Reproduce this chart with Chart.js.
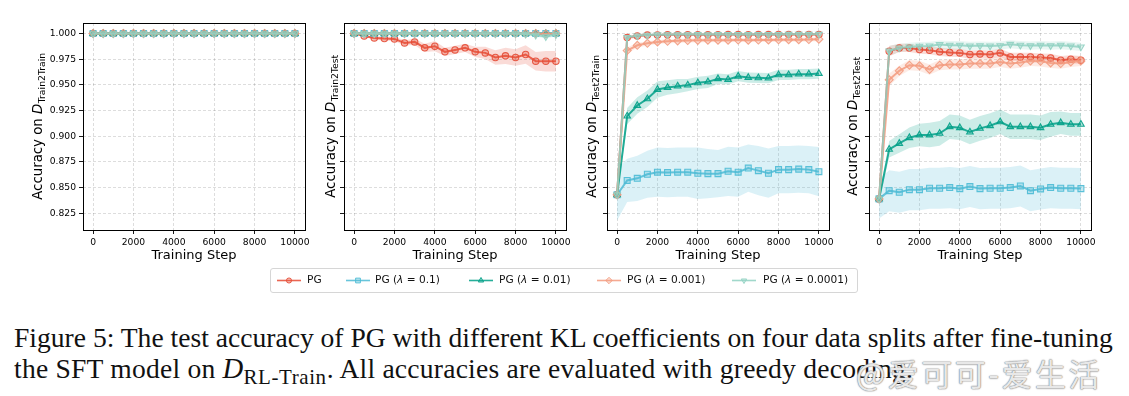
<!DOCTYPE html>
<html>
<head>
<meta charset="utf-8">
<script src="https://cdn.jsdelivr.net/npm/chart.js@4.4.1/dist/chart.umd.min.js"></script>
<style>
  body { margin: 0; background: #fff; }
  #fig { position: relative; width: 1129px; height: 396px; overflow: hidden; background: #fff; }
  .panel { position: absolute; top: 0; }
  #legend { position: absolute; left: 270px; top: 268px; width: 588px; height: 25px; border: 1px solid #d6d6d6; border-radius: 3px; box-sizing: border-box; }
  .lg-item { position: absolute; top: 0; height: 23px; }
  .lg-item canvas { position: absolute; top: 0; left: 0; }
  .lg-item span { position: absolute; top: 4px; white-space: nowrap; font: 10.6px "DejaVu Sans"; color: #111; }
  .cap { position: absolute; left: 14px; white-space: nowrap; font-family: "Liberation Serif", serif; font-size: 23px; line-height: 23px; color: #111; }
  #cap2 { letter-spacing: 0.22px; }
  .cap .m { font-size: 1.04em; }
  .cap sub { font-size: 0.76em; vertical-align: -0.28em; line-height: 0; letter-spacing: 0.6px; }
  #wm { position: absolute; left: 856px; top: 350px; font: 31px "Noto Sans CJK SC"; letter-spacing: 2.5px; color: rgba(255,255,255,0.82); text-shadow: 0 0 1px #888, 0 0 1px #888, 0 0 2px #aaa; white-space: nowrap; }
</style>
</head>
<body>
<div id="fig">
  <canvas id="c1" class="panel" width="323" height="270"></canvas>
  <canvas id="c2" class="panel" width="323" height="270"></canvas>
  <canvas id="c3" class="panel" width="323" height="270"></canvas>
  <canvas id="c4" class="panel" width="323" height="270"></canvas>
  <div id="legend"></div>
  <div class="cap" id="cap1" style="top:326px">Figure 5: The test accuracy of PG with different KL coefficients on four data splits after fine-tuning</div>
  <div class="cap" id="cap2" style="top:357px">the SFT model on <i class="m">D</i><sub>RL-Train</sub>. All accuracies are evaluated with greedy decoding.</div>
  <div id="wm">@爱可可-爱生活</div>
</div>
<script>
const steps = [0, 500, 1000, 1500, 2000, 2500, 3000, 3500, 4000, 4500, 5000, 5500, 6000, 6500, 7000, 7500, 8000, 8500, 9000, 9500, 10000];
const xTicks = [0, 2000, 4000, 6000, 8000, 10000];
const yTicks = [0.825, 0.850, 0.875, 0.900, 0.925, 0.950, 0.975, 1.000];
const seriesLabels = ['PG', 'PG (λ = 0.1)', 'PG (λ = 0.01)', 'PG (λ = 0.001)', 'PG (λ = 0.0001)'];
const panelSubs = ['Train2Train', 'Train2Test', 'Test2Train', 'Test2Test'];

// D_Train2Train : every run stays at 1.0
const trtrPg = [1, 1, 1, 1, 1, 1, 1, 1, 1, 1, 1, 1, 1, 1, 1, 1, 1, 1, 1, 1, 1];
const trtrL1 = [1, 1, 1, 1, 1, 1, 1, 1, 1, 1, 1, 1, 1, 1, 1, 1, 1, 1, 1, 1, 1];
const trtrL2 = [1, 1, 1, 1, 1, 1, 1, 1, 1, 1, 1, 1, 1, 1, 1, 1, 1, 1, 1, 1, 1];
const trtrL3 = [1, 1, 1, 1, 1, 1, 1, 1, 1, 1, 1, 1, 1, 1, 1, 1, 1, 1, 1, 1, 1];
const trtrL4 = [1, 1, 1, 1, 1, 1, 1, 1, 1, 1, 1, 1, 1, 1, 1, 1, 1, 1, 1, 1, 1];

// D_Train2Test
const trtePg = [1.000, 0.9977, 0.9958, 0.9951, 0.9948, 0.9909, 0.9919, 0.9861, 0.9877, 0.9822, 0.9841, 0.9861, 0.9822, 0.9812, 0.9767, 0.9783, 0.9767, 0.9796, 0.9731, 0.9731, 0.9731];
const trtePgSd = [0, 0.001, 0.0015, 0.002, 0.002, 0.0025, 0.003, 0.004, 0.005, 0.004, 0.004, 0.004, 0.005, 0.006, 0.007, 0.008, 0.008, 0.009, 0.009, 0.010, 0.010];
const trteL1 = [1, 1, 1, 1, 1, 1, 1, 1, 1, 1, 1, 1, 1, 1, 1, 1, 1, 1, 1, 1, 1];
const trteL2 = [1, 1, 1, 1, 1, 1, 1, 1, 1, 1, 1, 1, 1, 1, 1, 1, 1, 1, 1, 1, 1];
const trteL3 = [1, 1, 1, 1, 1, 1, 1, 1, 1, 1, 1, 1, 1, 1, 1, 1, 1, 1, 1, 0.9997, 1];
const trteL4 = [1, 1, 1, 1, 1, 1, 1, 1, 1, 1, 1, 1, 1, 1, 1, 1, 1, 0.9995, 0.9985, 0.9970, 0.9990];
const trteL4Sd = [0, 0, 0, 0, 0, 0, 0, 0, 0, 0, 0, 0, 0, 0, 0, 0, 0, 0.001, 0.0015, 0.002, 0.0015];

// D_Test2Train
const tetrPg = [0.843, 0.9961, 0.9977, 0.9985, 0.9987, 0.9988, 0.9988, 0.9989, 0.9989, 0.9988, 0.9989, 0.9990, 0.9990, 0.9989, 0.9990, 0.9990, 0.9991, 0.9991, 0.9991, 0.9992, 0.9992];
const tetrPgSd = [0, 0.002, 0.0015, 0.001, 0.001, 0.001, 0.001, 0.001, 0.001, 0.001, 0.001, 0.001, 0.001, 0.001, 0.001, 0.001, 0.001, 0.001, 0.001, 0.001, 0.001];
const tetrL1 = [0.843, 0.857, 0.859, 0.863, 0.865, 0.8646, 0.865, 0.865, 0.864, 0.8636, 0.8636, 0.8659, 0.865, 0.869, 0.8665, 0.864, 0.8675, 0.8675, 0.868, 0.8675, 0.8655];
const tetrL1Sd = [0.025, 0.021, 0.022, 0.023, 0.024, 0.024, 0.024, 0.024, 0.025, 0.024, 0.023, 0.024, 0.024, 0.023, 0.024, 0.024, 0.023, 0.023, 0.023, 0.023, 0.024];
const tetrL2 = [0.843, 0.9196, 0.930, 0.9365, 0.9456, 0.9475, 0.9488, 0.9498, 0.952, 0.953, 0.956, 0.9553, 0.9585, 0.9572, 0.9569, 0.9566, 0.9598, 0.9598, 0.9605, 0.9605, 0.9611];
const tetrL2Sd = [0.002, 0.008, 0.008, 0.008, 0.008, 0.007, 0.007, 0.006, 0.006, 0.006, 0.005, 0.005, 0.005, 0.005, 0.005, 0.005, 0.005, 0.005, 0.005, 0.005, 0.005];
const tetrL3 = [0.843, 0.9835, 0.9886, 0.9905, 0.9918, 0.9925, 0.9929, 0.9932, 0.9934, 0.9935, 0.9935, 0.9936, 0.9937, 0.9936, 0.9937, 0.9938, 0.9939, 0.9940, 0.9941, 0.9942, 0.9945];
const tetrL3Sd = [0, 0.003, 0.0025, 0.002, 0.002, 0.002, 0.002, 0.002, 0.002, 0.002, 0.002, 0.002, 0.002, 0.002, 0.002, 0.002, 0.002, 0.002, 0.002, 0.002, 0.002];
const tetrL4 = [0.843, 0.9963, 0.9978, 0.9985, 0.9988, 0.9989, 0.9990, 0.9990, 0.9991, 0.9990, 0.9991, 0.9991, 0.9992, 0.9991, 0.9992, 0.9992, 0.9992, 0.9993, 0.9993, 0.9993, 0.9993];
const tetrL4Sd = [0, 0.0015, 0.001, 0.001, 0.001, 0.001, 0.001, 0.001, 0.001, 0.001, 0.001, 0.001, 0.001, 0.001, 0.001, 0.001, 0.001, 0.001, 0.001, 0.001, 0.001];

// D_Test2Test
const tetePg = [0.839, 0.9828, 0.986, 0.986, 0.9844, 0.9838, 0.9822, 0.9815, 0.9812, 0.9796, 0.980, 0.9796, 0.9812, 0.9773, 0.9773, 0.9773, 0.9767, 0.9763, 0.9741, 0.975, 0.9741];
const tetePgSd = [0, 0.005, 0.004, 0.004, 0.004, 0.004, 0.004, 0.004, 0.004, 0.004, 0.004, 0.004, 0.004, 0.004, 0.004, 0.004, 0.004, 0.004, 0.004, 0.004, 0.004];
const teteL1 = [0.839, 0.847, 0.8455, 0.848, 0.848, 0.8494, 0.8494, 0.850, 0.849, 0.851, 0.849, 0.8494, 0.8494, 0.850, 0.8516, 0.847, 0.8487, 0.850, 0.8494, 0.8494, 0.849];
const teteL1Sd = [0.019, 0.02, 0.02, 0.02, 0.02, 0.02, 0.02, 0.02, 0.02, 0.02, 0.02, 0.02, 0.02, 0.02, 0.02, 0.02, 0.02, 0.02, 0.02, 0.02, 0.02];
const teteL2 = [0.839, 0.8873, 0.893, 0.8986, 0.9012, 0.9012, 0.9028, 0.9093, 0.9083, 0.9041, 0.9077, 0.9103, 0.9141, 0.9093, 0.9093, 0.9093, 0.9083, 0.9116, 0.9132, 0.9116, 0.9116];
const teteL2Sd = [0.003, 0.008, 0.009, 0.010, 0.011, 0.012, 0.012, 0.012, 0.012, 0.012, 0.012, 0.012, 0.012, 0.012, 0.012, 0.012, 0.012, 0.012, 0.011, 0.011, 0.011];
const teteL3 = [0.839, 0.955, 0.9637, 0.9692, 0.9686, 0.965, 0.9692, 0.970, 0.970, 0.9708, 0.9708, 0.9708, 0.9724, 0.9708, 0.9718, 0.9734, 0.973, 0.9714, 0.9708, 0.9724, 0.9734];
const teteL3Sd = [0, 0.006, 0.005, 0.005, 0.005, 0.005, 0.005, 0.005, 0.005, 0.005, 0.005, 0.005, 0.005, 0.005, 0.005, 0.005, 0.005, 0.005, 0.005, 0.005, 0.005];
const teteL4 = [0.839, 0.9832, 0.986, 0.987, 0.9877, 0.988, 0.9893, 0.9887, 0.9887, 0.988, 0.9883, 0.988, 0.9883, 0.9896, 0.9887, 0.9883, 0.9887, 0.9883, 0.9887, 0.988, 0.987];
const teteL4Sd = [0, 0.005, 0.004, 0.004, 0.004, 0.004, 0.004, 0.004, 0.004, 0.004, 0.004, 0.004, 0.004, 0.004, 0.004, 0.004, 0.004, 0.004, 0.004, 0.004, 0.004];

const colors = ['#E64B35', '#4DBBD5', '#00A087', '#F39B7F', '#91D1C2'];
const markers = ['circle', 'rect', 'triangle', 'rectRot', 'triangle'];
const markerRot = [0, 0, 0, 0, 180];
const markerSize = [3.2, 4.2, 3.8, 4.0, 3.8];

const rgba = (hex, a) => {
    const n = parseInt(hex.slice(1), 16);
    return `rgba(${n >> 16}, ${(n >> 8) & 255}, ${n & 255}, ${a})`;
};

Chart.defaults.font.family = 'DejaVu Sans';
Chart.defaults.color = '#000';

// black box round the plot area, like matplotlib spines
const framePlugin = {
    id: 'frame',
    afterDatasetsDraw(chart) {
        const { ctx, chartArea: a } = chart;
        ctx.save();
        ctx.strokeStyle = '#000';
        ctx.lineWidth = 1;
        ctx.strokeRect(Math.round(a.left) + 0.5, Math.round(a.top) + 0.5, Math.round(a.right - a.left), Math.round(a.bottom - a.top));
        ctx.restore();
    }
};

// "Accuracy on D_xxx" with italic D and subscript
const yTitlePlugin = {
    id: 'ytitle',
    afterDraw(chart, args, opts) {
        const { ctx, chartArea: a } = chart;
        const big = 13.3, small = 9.3;
        ctx.save();
        ctx.fillStyle = '#000';
        ctx.textBaseline = 'alphabetic';
        ctx.font = `${big}px "DejaVu Sans"`;
        const w1 = ctx.measureText('Accuracy on ').width;
        ctx.font = `italic ${big}px "DejaVu Sans"`;
        const w2 = ctx.measureText('D').width;
        ctx.font = `${small}px "DejaVu Sans"`;
        const w3 = ctx.measureText(opts.sub).width;
        ctx.translate(opts.x, (a.top + a.bottom) / 2);
        ctx.rotate(-Math.PI / 2);
        let x = -(w1 + w2 + w3) / 2;
        ctx.font = `${big}px "DejaVu Sans"`;
        ctx.fillText('Accuracy on ', x, 0);
        x += w1;
        ctx.font = `italic ${big}px "DejaVu Sans"`;
        ctx.fillText('D', x, 0);
        x += w2 + 0.5;
        ctx.font = `${small}px "DejaVu Sans"`;
        ctx.fillText(opts.sub, x, 3);
        ctx.restore();
    }
};

const makePanel = (canvasId, left, series, sub, titleX, showYLabels) => {
    const cv = document.getElementById(canvasId);
    cv.style.left = left + 'px';
    const datasets = [];
    series.forEach((s, i) => {
        if (s.sd) {
            datasets.push({
                data: steps.map((x, k) => ({ x, y: s.mean[k] - s.sd[k] })),
                borderWidth: 0, borderColor: 'rgba(0,0,0,0)', pointRadius: 0, fill: false, order: 50 - i
            });
            datasets.push({
                data: steps.map((x, k) => ({ x, y: s.mean[k] + s.sd[k] })),
                borderWidth: 0, borderColor: 'rgba(0,0,0,0)', pointRadius: 0,
                fill: '-1', backgroundColor: rgba(colors[i], 0.2), order: 50 - i
            });
        }
        datasets.push({
            data: steps.map((x, k) => ({ x, y: s.mean[k] })),
            borderColor: rgba(colors[i], 0.85),
            borderWidth: 2,
            pointStyle: markers[i],
            rotation: markerRot[i],
            pointRadius: markerSize[i],
            pointBorderWidth: 1.1,
            pointBorderColor: rgba(colors[i], 0.9),
            pointBackgroundColor: rgba(colors[i], 0.3),
            fill: false,
            order: 10 - i
        });
    });

    return new Chart(cv, {
        type: 'line',
        data: { datasets },
        plugins: [framePlugin, yTitlePlugin],
        options: {
            responsive: false,
            animation: false,
            events: [],
            layout: { padding: { top: 23, right: 18, left: 0, bottom: 0 } },
            plugins: {
                legend: { display: false },
                tooltip: { enabled: false },
                ytitle: { sub, x: titleX }
            },
            scales: {
                x: {
                    type: 'linear',
                    min: -500,
                    max: 10500,
                    afterBuildTicks: (sc) => { sc.ticks = xTicks.map(v => ({ value: v })); },
                    afterFit: (sc) => { sc.height = 40; },
                    ticks: { font: { size: 9.2 }, padding: 3, maxRotation: 0, color: '#000', callback: (v) => String(v) },
                    grid: { color: 'rgba(0,0,0,0.17)', lineWidth: 0.8, tickColor: '#000', tickLength: 4, tickWidth: 0.9 },
                    border: { display: false, dash: [3, 2] },
                    title: { display: true, text: 'Training Step', font: { size: 13 }, padding: { top: 0, bottom: 7 }, color: '#000' }
                },
                y: {
                    min: 0.8087,
                    max: 1.0103,
                    afterBuildTicks: (sc) => { sc.ticks = yTicks.map(v => ({ value: v })); },
                    afterFit: (sc) => { sc.width = 83; },
                    ticks: {
                        font: { size: 9.2 }, padding: 3, color: '#000',
                        callback: (v) => showYLabels ? v.toFixed(3) : ''
                    },
                    grid: { color: 'rgba(0,0,0,0.17)', lineWidth: 0.8, tickColor: '#000', tickLength: 4, tickWidth: 0.9 },
                    border: { display: false, dash: [3, 2] }
                }
            }
        }
    });
};

const plotLefts = [83, 344, 607, 869];

makePanel('c1', plotLefts[0] - 83, [
    { mean: trtrPg }, { mean: trtrL1 }, { mean: trtrL2 }, { mean: trtrL3 }, { mean: trtrL4 }
], panelSubs[0], 42, true);

makePanel('c2', plotLefts[1] - 83, [
    { mean: trtePg, sd: trtePgSd }, { mean: trteL1 }, { mean: trteL2 }, { mean: trteL3 }, { mean: trteL4, sd: trteL4Sd }
], panelSubs[1], 83 - 9.5, false);

makePanel('c3', plotLefts[2] - 83, [
    { mean: tetrPg, sd: tetrPgSd }, { mean: tetrL1, sd: tetrL1Sd }, { mean: tetrL2, sd: tetrL2Sd },
    { mean: tetrL3, sd: tetrL3Sd }, { mean: tetrL4, sd: tetrL4Sd }
], panelSubs[2], 83 - 11, false);

makePanel('c4', plotLefts[3] - 83, [
    { mean: tetePg, sd: tetePgSd }, { mean: teteL1, sd: teteL1Sd }, { mean: teteL2, sd: teteL2Sd },
    { mean: teteL3, sd: teteL3Sd }, { mean: teteL4, sd: teteL4Sd }
], panelSubs[3], 83 - 12, false);

// legend: line sample with marker, then label
const drawMarker = (ctx, shape, rot, r, x, y) => {
    ctx.beginPath();
    if (shape === 'circle') {
        ctx.arc(x, y, r, 0, Math.PI * 2);
    } else if (shape === 'rect') {
        const s = r * Math.SQRT1_2;
        ctx.rect(x - s, y - s, 2 * s, 2 * s);
    } else if (shape === 'rectRot') {
        ctx.moveTo(x, y - r); ctx.lineTo(x + r, y); ctx.lineTo(x, y + r); ctx.lineTo(x - r, y); ctx.closePath();
    } else {
        const d = rot ? -1 : 1;
        ctx.moveTo(x, y - d * r);
        ctx.lineTo(x + r * 0.866, y + d * r * 0.5);
        ctx.lineTo(x - r * 0.866, y + d * r * 0.5);
        ctx.closePath();
    }
};

const legendPos = [[4, 36], [73, 104], [196, 228], [324, 356], [459, 492]];
const legendEl = document.getElementById('legend');
seriesLabels.forEach((lab, i) => {
    const item = document.createElement('div');
    item.className = 'lg-item';
    item.style.left = legendPos[i][0] + 'px';
    const cv = document.createElement('canvas');
    cv.width = 28; cv.height = 23;
    const ctx = cv.getContext('2d');
    ctx.strokeStyle = rgba(colors[i], 0.85);
    ctx.lineWidth = 1.6;
    ctx.beginPath(); ctx.moveTo(2, 11.5); ctx.lineTo(26, 11.5); ctx.stroke();
    drawMarker(ctx, markers[i], markerRot[i], markerSize[i] * 0.8, 14, 11.5);
    ctx.fillStyle = rgba(colors[i], 0.3);
    ctx.fill();
    ctx.lineWidth = 1;
    ctx.strokeStyle = rgba(colors[i], 0.9);
    ctx.stroke();
    item.appendChild(cv);
    const sp = document.createElement('span');
    sp.style.left = (legendPos[i][1] - legendPos[i][0]) + 'px';
    sp.innerHTML = lab.replace('λ', '<i>λ</i>');
    item.appendChild(sp);
    legendEl.appendChild(item);
});

// stretch caption line 1 to the width it has in the figure
const fitCaption = () => {
    const c1 = document.getElementById('cap1');
    const c2 = document.getElementById('cap2');
    const size = 23 * 1099 / c1.getBoundingClientRect().width;
    c1.style.fontSize = size + 'px';
    c2.style.fontSize = size + 'px';
};
fitCaption();
</script>
</body>
</html>
